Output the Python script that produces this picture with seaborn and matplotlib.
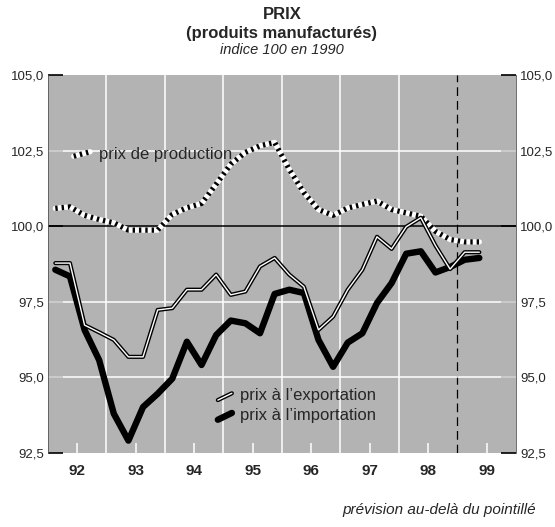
import numpy as np
import pandas as pd
import seaborn as sns
import matplotlib.pyplot as plt

# quarterly data, 1992 Q1 -> 1999 Q2
years = [1992 + i // 4 for i in range(30)]
quarters = [i % 4 + 1 for i in range(30)]

production = [100.59, 100.64, 100.36, 100.22, 100.11, 99.87, 99.87, 99.87,
              100.39, 100.61, 100.75, 101.39, 102.05, 102.44, 102.66, 102.77,
              101.88, 101.11, 100.55, 100.36, 100.6, 100.72, 100.83, 100.55,
              100.44, 100.33, 99.83, 99.56, 99.48, 99.48]
exportation = [98.78, 98.78, 96.73, 96.49, 96.24, 95.68, 95.68, 97.23,
               97.29, 97.9, 97.9, 98.4, 97.73, 97.84, 98.67, 98.95,
               98.4, 98.0, 96.57, 97.01, 97.9, 98.56, 99.65, 99.25,
               99.98, 100.28, 99.36, 98.58, 99.14, 99.14]
importation = [98.56, 98.34, 96.57, 95.57, 93.8, 92.91, 94.02, 94.46,
               94.96, 96.18, 95.41, 96.4, 96.88, 96.79, 96.46, 97.76,
               97.9, 97.79, 96.24, 95.35, 96.15, 96.46, 97.46, 98.12,
               99.09, 99.17, 98.47, 98.65, 98.89, 98.95]

year_labels = ["92", "93", "94", "95", "96", "97", "98", "99"]
y_ticks = [92.5, 95.0, 97.5, 100.0, 102.5, 105.0]
forecast_start = 1999

df = pd.DataFrame({"year": years, "quarter": quarters,
                   "production": production, "exportation": exportation,
                   "importation": importation})
df["t"] = df["year"] + (df["quarter"] - 0.5) / 4

sns.set_style("white")
plt.rcParams["font.family"] = ["Liberation Sans Narrow", "Liberation Sans", "DejaVu Sans"]

fig = plt.figure(figsize=(5.55, 5.27), dpi=100)
ax = fig.add_axes([0.0865, 0.1404, 0.843, 0.7173])
ax.set_facecolor("#b3b3b3")

# year separators + reference line + forecast line
for yr in range(1993, 1999):
    ax.axvline(yr, color="white", lw=1.1, zorder=1)
ax.axvline(forecast_start, color="black", lw=0.9, ls=(0, (7, 4)), zorder=1)
for v in [95.0, 97.5, 102.5]:
    ax.axhline(v, color="white", lw=1.1, zorder=1)
ax.axhline(100, color="black", lw=1.1, zorder=1)

# prix de production : black / white dashes
sns.lineplot(data=df, x="t", y="production", ax=ax, color="white", lw=3.8, zorder=3)
sns.lineplot(data=df, x="t", y="production", ax=ax, color="black", lw=3.8,
             dashes=False, zorder=4).lines[-1].set_dashes((0.45, 0.75))
# prix à l'importation : thick black
sns.lineplot(data=df, x="t", y="importation", ax=ax, color="black", lw=4.6, zorder=5)
# prix à l'exportation : double line
sns.lineplot(data=df, x="t", y="exportation", ax=ax, color="black", lw=3.0, zorder=6)
sns.lineplot(data=df, x="t", y="exportation", ax=ax, color="white", lw=1.0, zorder=7)

ax.set_xlim(1992, 2000)
ax.set_ylim(92.5, 105)
ax.set_xlabel("")
ax.set_ylabel("")

# axes ticks
ax.set_yticks(y_ticks)
ax.set_yticklabels([f"{v:.1f}".replace(".", ",") for v in y_ticks])
ax.tick_params(axis="y", direction="in", length=11, width=1.2, color="black",
               left=True, right=True, labelleft=True, labelright=True,
               labelsize=9.5, pad=3)
ax.set_xticks([1992.5 + i for i in range(8)])
ax.set_xticklabels(year_labels, fontweight="bold", fontsize=11)
ax.tick_params(axis="x", direction="in", length=7, width=1.1, color="white",
               bottom=True, pad=8)
for s in ["top", "bottom"]:
    ax.spines[s].set_visible(False)
for s in ["left", "right"]:
    ax.spines[s].set_color("#555555")
    ax.spines[s].set_linewidth(0.6)

# legend texts with little line samples
tr = ax.transAxes
ax.plot([0.055, 0.09], [0.785, 0.797], transform=tr, color="white", lw=3.8, zorder=8)
ax.plot([0.055, 0.09], [0.785, 0.797], transform=tr, color="black", lw=3.8,
        dashes=(0.45, 0.75), zorder=9)
ax.text(0.11, 0.79, "prix de production", transform=tr, fontsize=12,
        va="center", zorder=9)
ax.plot([0.363, 0.393], [0.14, 0.158], transform=tr, color="black", lw=3.0, zorder=8)
ax.plot([0.363, 0.393], [0.14, 0.158], transform=tr, color="white", lw=1.0, zorder=9)
ax.text(0.41, 0.152, "prix à l’exportation", transform=tr, fontsize=12,
        va="center", zorder=9)
ax.plot([0.363, 0.393], [0.088, 0.106], transform=tr, color="black", lw=4.6, zorder=8)
ax.text(0.41, 0.1, "prix à l’importation", transform=tr, fontsize=12,
        va="center", zorder=9)

# titles
cx = 0.0865 + 0.843 / 2
fig.text(cx, 0.972, "PRIX", ha="center", va="center", fontsize=12, fontweight="bold")
fig.text(cx, 0.937, "(produits manufacturés)", ha="center", va="center",
         fontsize=12, fontweight="bold")
fig.text(cx, 0.905, "indice 100 en 1990", ha="center", va="center",
         fontsize=10.5, style="italic")
fig.text(0.965, 0.033, "prévision au-delà du pointillé", ha="right", va="center",
         fontsize=11, style="italic")

fig.savefig("out.png", dpi=100)
